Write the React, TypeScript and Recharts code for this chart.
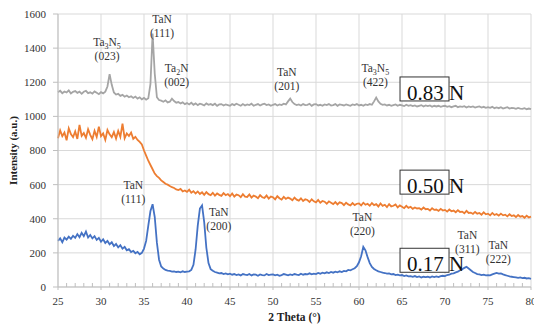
import React from 'react';
import { LineChart, Line, XAxis, YAxis, CartesianGrid, ReferenceDot } from 'recharts';

const FONT = '"Liberation Serif", "Times New Roman", serif';

// 2θ grid (degrees) — data sampled every 0.25° from 25° to 80°
const THETA_START = 25;
const THETA_STEP = 0.25;

const X_TICKS = [25, 26, 27, 28, 29, 30, 31, 32, 33, 34, 35, 36, 37, 38, 39, 40, 41, 42, 43, 44, 45, 46, 47, 48, 49, 50, 51, 52, 53, 54, 55, 56, 57, 58, 59, 60, 61, 62, 63, 64, 65, 66, 67, 68, 69, 70, 71, 72, 73, 74, 75, 76, 77, 78, 79, 80];
const X_MAJOR = [25, 30, 35, 40, 45, 50, 55, 60, 65, 70, 75, 80];
const Y_TICKS = [0, 200, 400, 600, 800, 1000, 1200, 1400, 1600];

// Intensity, 0.83 N (gray)
const LOAD_083 = [
  1142, 1150, 1136, 1146,
  1140, 1152, 1134, 1144,
  1148, 1138, 1145, 1132,
  1144, 1150, 1136, 1141,
  1133, 1146, 1138, 1130,
  1142, 1135, 1145, 1175,
  1248, 1185, 1140, 1128,
  1132, 1120, 1126, 1115,
  1122, 1112, 1118, 1108,
  1116, 1104, 1112, 1100,
  1108, 1098, 1106, 1190,
  1485, 1250, 1112, 1096,
  1092, 1086, 1094, 1082,
  1086, 1104, 1090, 1080,
  1084, 1076, 1082, 1072,
  1078, 1070, 1080, 1068,
  1076, 1066, 1074, 1070,
  1064, 1076, 1068, 1072,
  1066, 1074, 1062, 1070,
  1072, 1064, 1070, 1066,
  1062, 1072, 1066, 1074,
  1068, 1062, 1072, 1064,
  1070, 1066, 1074, 1062,
  1068, 1072, 1064, 1070,
  1074, 1066, 1070, 1062,
  1068, 1072, 1064, 1070,
  1066, 1074, 1070, 1088,
  1104, 1084, 1072, 1066,
  1070, 1064, 1072, 1066,
  1068, 1074, 1062, 1070,
  1072, 1064, 1068, 1062,
  1070, 1066, 1072, 1064,
  1066, 1072, 1062, 1070,
  1068, 1064, 1070, 1066,
  1062, 1070, 1066, 1072,
  1064, 1068, 1062, 1070,
  1066, 1072, 1068, 1088,
  1110, 1088, 1074, 1068,
  1070, 1064, 1068, 1062,
  1066, 1070, 1062, 1068,
  1064, 1060, 1068, 1062,
  1066, 1060, 1064, 1058,
  1062, 1066, 1058, 1064,
  1060, 1064, 1056, 1062,
  1058, 1062, 1056, 1060,
  1062, 1056, 1060, 1054,
  1058, 1062, 1054, 1058,
  1056, 1060, 1052, 1058,
  1054, 1058, 1052, 1056,
  1058, 1052, 1056, 1050,
  1054, 1050, 1056, 1048,
  1052, 1048, 1054, 1046,
  1050, 1054, 1046, 1050,
  1048, 1044, 1050, 1046,
  1044, 1048, 1042, 1046,
  1042,
];

// Intensity, 0.50 N (orange)
const LOAD_050 = [
  872, 918, 884, 905,
  860, 930, 896, 878,
  912, 868, 950, 886,
  902, 874, 925, 892,
  866, 915, 880, 940,
  884, 900, 862, 920,
  895, 878, 908, 870,
  915, 880, 958, 872,
  900, 885, 905, 868,
  880, 862, 850, 835,
  800, 770, 740, 715,
  690, 665, 650, 640,
  625, 615, 605, 600,
  592, 585, 580, 572,
  568, 575, 560, 566,
  558, 570, 552, 562,
  548, 560, 545, 555,
  540, 556, 544, 538,
  552, 536, 548, 540,
  534, 550, 538, 545,
  532, 548, 530, 542,
  538, 526, 544, 530,
  528, 542, 524, 536,
  530, 520, 538, 526,
  522, 536, 518, 530,
  526, 514, 532, 520,
  512, 528, 516, 524,
  518, 508, 524, 512,
  506, 520, 504, 514,
  510, 498, 514, 502,
  496, 510, 494, 504,
  500, 488, 502, 494,
  486, 498, 484, 496,
  492, 480, 494, 484,
  478, 492, 480, 488,
  490, 478, 494, 482,
  488, 476, 492, 480,
  486, 472, 490, 476,
  482, 468, 486, 472,
  476, 484, 466, 478,
  470, 462, 476, 464,
  470, 458, 466, 460,
  462, 454, 466, 456,
  458, 448, 462, 452,
  454, 446, 458, 448,
  452, 442, 454, 444,
  448, 438, 450, 440,
  442, 432, 446, 434,
  436, 428, 440, 430,
  434, 424, 438, 426,
  430, 420, 434, 422,
  428, 418, 430, 420,
  424, 414, 426, 416,
  420, 410, 422, 412,
  416, 406, 418, 408,
  412,
];

// Intensity, 0.17 N (blue)
const LOAD_017 = [
  270, 285, 262, 290,
  278, 295, 282, 300,
  288, 310, 292, 318,
  298, 325, 290, 305,
  285, 298, 276, 288,
  265, 280, 258, 270,
  250, 262, 240, 252,
  232, 245, 225, 235,
  215, 222, 205, 212,
  198, 206, 192, 200,
  225, 270, 360, 445,
  485, 410, 260, 160,
  120, 108, 100, 96,
  94, 90, 92, 88,
  90, 86, 92, 88,
  90, 92, 100, 130,
  220, 360, 460, 478,
  380, 230, 140, 105,
  95, 88, 84, 80,
  82, 76, 80, 74,
  78, 72, 76, 70,
  74, 68, 76, 72,
  70, 76, 68, 74,
  72, 66, 74, 70,
  68, 76, 70, 72,
  74, 68, 72, 66,
  70, 76, 72, 68,
  74, 70, 76, 72,
  70, 78, 72, 76,
  74, 80, 74, 78,
  76, 82, 78, 84,
  80, 86, 82, 88,
  84, 90, 86, 92,
  88, 94, 92, 100,
  98, 104, 110, 122,
  145, 180, 235, 215,
  175, 140, 118, 106,
  98, 92, 88, 84,
  82, 78, 80, 74,
  76, 70, 72, 68,
  70, 64, 68, 62,
  64, 60, 64, 58,
  62, 56, 60, 58,
  60, 56, 62, 58,
  62, 58, 64, 66,
  64, 70, 72, 78,
  80, 86, 90, 98,
  104, 112, 118, 108,
  98, 88, 82, 76,
  74, 70, 72, 68,
  70, 68, 74, 78,
  82, 78, 80, 74,
  70, 66, 62, 60,
  58, 56, 54, 56,
  52, 54, 50, 52,
  48,
];

// Peak annotations (label anchored at 2θ, intensity)
const PEAK_X = [30.7, 37.1, 38.8, 51.6, 61.9, 33.75, 43.7, 60.4, 72.6, 76.2];
const PEAK_Y = [1436, 1571, 1283, 1260, 1284, 597, 438, 409, 303, 245];
const PEAK_PHASE = ['Ta3N5', 'TaN', 'Ta2N', 'TaN', 'Ta3N5', 'TaN', 'TaN', 'TaN', 'TaN', 'TaN'];
const PEAK_HKL = ['(023)', '(111)', '(002)', '(201)', '(422)', '(111)', '(200)', '(220)', '(311)', '(222)'];

// Load labels
const LOAD_LABEL_X = [64.77, 64.77, 64.77];
const LOAD_LABEL_Y = [1231, 685, 227];
const LOAD_LABEL_TEXT = ['0.83', '0.50', '0.17'];

const data = LOAD_083.map((v, i) => ({
  theta: THETA_START + i * THETA_STEP,
  g: v,
  o: LOAD_050[i],
  b: LOAD_017[i],
}));

const PhaseText = ({ name }: { name: string }) => {
  const parts: React.ReactNode[] = [];
  let sub = false;
  name.split('').forEach((ch, k) => {
    const isDigit = /[0-9]/.test(ch);
    if (isDigit && !sub) {
      parts.push(<tspan key={k} fontSize={8} dy={3}>{ch}</tspan>);
      sub = true;
    } else if (!isDigit && sub) {
      parts.push(<tspan key={k} dy={-3}>{ch}</tspan>);
      sub = false;
    } else {
      parts.push(<tspan key={k}>{ch}</tspan>);
    }
  });
  return <>{parts}</>;
};

const makePeakShape = (name: string, hkl: string) => (p: any) => (
  <g>
    <text x={p.cx} y={p.cy} dy="0.35em" textAnchor="middle" fontSize={11.5} fontFamily={FONT} fill="#333">
      <PhaseText name={name} />
    </text>
    <text x={p.cx} y={p.cy + 14} dy="0.35em" textAnchor="middle" fontSize={11.5} fontFamily={FONT} fill="#333">
      {hkl}
    </text>
  </g>
);

const makeLoadShape = (text: string) => (p: any) => (
  <g>
    <rect x={p.cx} y={p.cy} width={49} height={24} fill="#fff" stroke="#333" strokeWidth={1} />
    <text x={p.cx + 7} y={p.cy + 23} fontSize={21} fontFamily={FONT} fill="#111">
      {text} N
    </text>
  </g>
);

const XTick = (props: any) => {
  const { x, y, payload } = props;
  const major = payload.value % 5 === 0;
  return (
    <g>
      <line x1={x} x2={x} y1={y} y2={major ? y + 3 : y - 4} stroke="#bfbfbf" strokeWidth={1} />
      {major && (
        <text x={x} y={y + 18} textAnchor="middle" fontSize={11} fontFamily={FONT} fill="#333">
          {payload.value}
        </text>
      )}
    </g>
  );
};

export default function App() {
  return (
    <div style={{ position: 'absolute', left: 0, top: 0, background: '#fff' }}>
      <LineChart width={534} height={325} data={data} margin={{ top: 14, right: 3, left: 0, bottom: 0 }}>
        <CartesianGrid stroke="#d9d9d9" strokeWidth={1} verticalValues={X_MAJOR} horizontalValues={Y_TICKS} />
        <XAxis
          dataKey="theta"
          type="number"
          domain={[25, 80]}
          ticks={X_TICKS}
          interval={0}
          tick={<XTick />}
          tickLine={false}
          tickSize={0}
          tickMargin={0}
          height={38}
          axisLine={{ stroke: '#bfbfbf' }}
          label={(props: any) => {
            const vb = props.viewBox || { x: 58, y: 287, width: 473, height: 38 };
            return (
              <text x={vb.x + vb.width / 2} y={vb.y + 34} textAnchor="middle" fontSize={11.5} fontWeight="bold" fontFamily={FONT} fill="#222">
                2 Theta (°)
              </text>
            );
          }}
        />
        <YAxis
          type="number"
          domain={[0, 1600]}
          ticks={Y_TICKS}
          width={58}
          tickSize={5}
          tickMargin={7}
          tickLine={{ stroke: '#bfbfbf' }}
          axisLine={{ stroke: '#bfbfbf' }}
          tick={{ fontSize: 11, fontFamily: FONT, fill: '#333' }}
          label={(props: any) => {
            const vb = props.viewBox || { x: 0, y: 14, width: 58, height: 273 };
            const cx = vb.x + 13;
            const cy = vb.y + vb.height / 2;
            return (
              <text x={cx} y={cy} transform={`rotate(-90 ${cx} ${cy})`} textAnchor="middle" dy="0.35em" fontSize={11} fontWeight="bold" fontFamily={FONT} fill="#222">
                Intensity (a.u.)
              </text>
            );
          }}
        />
        <Line type="linear" dataKey="g" stroke="#a5a5a5" strokeWidth={1.8} dot={false} isAnimationActive={false} />
        <Line type="linear" dataKey="o" stroke="#ed7d31" strokeWidth={1.8} dot={false} isAnimationActive={false} />
        <Line type="linear" dataKey="b" stroke="#4472c4" strokeWidth={1.8} dot={false} isAnimationActive={false} />
        {PEAK_X.map((x, i) => (
          <ReferenceDot key={'p' + i} x={x} y={PEAK_Y[i]} r={1} shape={makePeakShape(PEAK_PHASE[i], PEAK_HKL[i])} />
        ))}
        {LOAD_LABEL_X.map((x, i) => (
          <ReferenceDot key={'l' + i} x={x} y={LOAD_LABEL_Y[i]} r={1} shape={makeLoadShape(LOAD_LABEL_TEXT[i])} />
        ))}
      </LineChart>
    </div>
  );
}
